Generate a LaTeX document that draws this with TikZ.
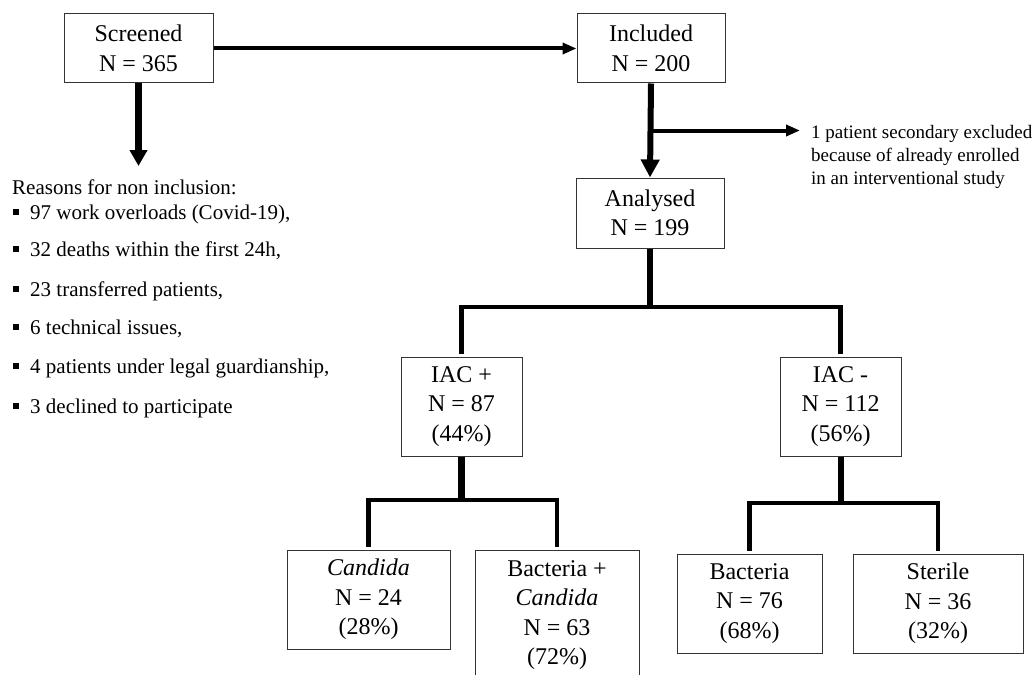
\documentclass[tikz,border=0pt]{standalone}
\usepackage{fontspec}
\setmainfont{Liberation Serif}
\usetikzlibrary{arrows.meta,calc}
\newcommand\sqbul{\rule[4pt]{6pt}{6pt}\hspace{11pt}}
\begin{document}
\begin{tikzpicture}[x=1pt,y=-1pt,
  box/.style={draw=black!80, line width=1pt, align=center, inner sep=0pt,
    font=\fontsize{24}{29.5}\selectfont},
  lst/.style={anchor=base west, inner sep=0pt, font=\fontsize{21}{25}\selectfont},
  thinar/.style={line width=4pt, -{Triangle[length=14pt,width=11pt]}},
  thickar/.style={line width=7pt, -{Triangle[length=16pt,width=17pt]}},
  midar/.style={line width=6pt, -{Triangle[length=18pt,width=18pt]}},
  trunk/.style={line width=6pt},
  bar/.style={line width=4.5pt, line join=miter}]
\useasboundingbox (0,0) rectangle (1035,674);
\clip (0,0) rectangle (1035,674);
\fill[white] (0,0) rectangle (1035,674);

% boxes
\node[box, minimum width=149pt, minimum height=69pt] (scr) at (138.5,48.5) {Screened\\N = 365};
\node[box, minimum width=148pt, minimum height=69pt] (inc) at (651,48.5) {Included\\N = 200};
\node[box, minimum width=148pt, minimum height=70pt] (ana) at (650,213) {Analysed\\N = 199};
\node[box, minimum width=121pt, minimum height=99pt] (iacp) at (461.5,406.5) {IAC +\\N = 87\\(44\%)};
\node[box, minimum width=121pt, minimum height=99pt] (iacm) at (840.5,406.5) {IAC -\\N = 112\\(56\%)};
\node[box, minimum width=163pt, minimum height=99pt] (cand) at (368.5,599.5) {\textit{Candida}\\N = 24\\(28\%)};
\node[box, minimum width=164pt, minimum height=130pt] (bc) at (557,615) {Bacteria +\\\textit{Candida}\\N = 63\\(72\%)};
\node[box, minimum width=145pt, minimum height=99pt] (bact) at (749.5,603.5) {Bacteria\\N = 76\\(68\%)};
\node[box, minimum width=170pt, minimum height=99pt] (ster) at (938,603.5) {Sterile\\N = 36\\(32\%)};

% reasons for non inclusion
\node[lst] (r0) at (12,194) {Reasons for non inclusion:};
\node[lst] (r1) at (13,219) {\sqbul 97 work overloads (Covid-19),};
\node[lst] (r2) at (13,256) {\sqbul 32 deaths within the first 24h,};
\node[lst] (r3) at (13,296) {\sqbul 23 transferred patients,};
\node[lst] (r4) at (13,334) {\sqbul 6 technical issues,};
\node[lst] (r5) at (13,373) {\sqbul 4 patients under legal guardianship,};
\node[lst] (r6) at (13,413) {\sqbul 3 declined to participate};

% exclusion note
\node[anchor=north west, align=left, inner sep=0pt, font=\fontsize{19}{23}\selectfont] (ex) at (811,125)
  {1 patient secondary excluded\\because of already enrolled\\in an interventional study};

% connectors
\coordinate (rs) at (138.5,166);
\draw[thinar] (scr.east) -- (inc.west);
\draw[thickar] (scr.south) -- (rs);
\draw[midar] (inc.south) -- (ana.north);
\coordinate (brp) at ($(inc.south)!0.5!(ana.north)$);
\draw[thinar, shorten >=11pt] (brp) -- (brp -| ex.west);

\coordinate (j1) at (650,307);
\draw[trunk] (ana.south) -- (j1);
\draw[bar] ([yshift=3pt]iacp.north) |- (j1) -| ([yshift=3pt]iacm.north);

\coordinate (j2) at (461.5,500);
\draw[line width=7pt] (iacp.south) -- (j2);
\draw[bar] ([yshift=3pt]cand.north) |- (j2) -| ([yshift=3pt]bc.north);

\coordinate (j3) at (840.5,503);
\draw[trunk] (iacm.south) -- (j3);
\draw[bar] ([yshift=3pt]bact.north) |- (j3) -| ([yshift=3pt]ster.north);
\end{tikzpicture}
\end{document}
